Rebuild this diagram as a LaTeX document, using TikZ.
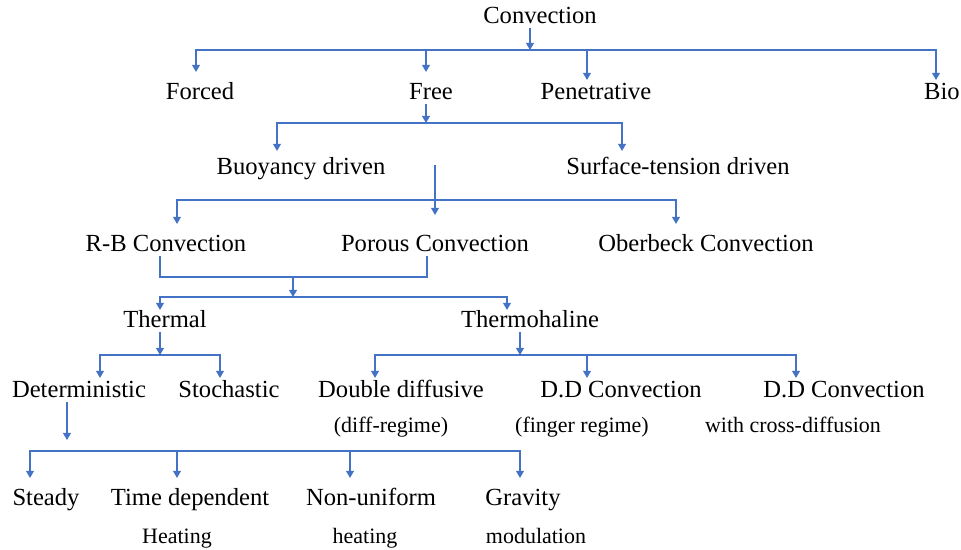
\documentclass[tikz,border=0pt]{standalone}
\usepackage{fontspec}
\setmainfont{Liberation Serif}
\usetikzlibrary{arrows.meta}
\definecolor{linkblue}{RGB}{68,114,196}

\begin{document}
\begin{tikzpicture}[x=0.02cm, y=-0.02cm,
  lbl/.style={anchor=base, inner xsep=2pt, inner ysep=2pt, text height=11.5pt, text depth=0pt, font=\fontsize{14}{16}\selectfont},
  note/.style={anchor=base, inner sep=2pt, font=\fontsize{12.5}{15}\selectfont},
  link/.style={draw=linkblue, line width=0.6pt},
  arr/.style={link, -{Triangle[width=4.5pt, length=4pt]}}]
\useasboundingbox (0,0) rectangle (961,550);

% labels
\node[lbl] (conv) at (540,24) {Convection};
\node[lbl] (forced) at (200,100) {Forced};
\node[lbl] (free) at (431,100) {Free};
\node[lbl] (pen) at (596,100) {Penetrative};
\node[lbl] (bio) at (942,100) {Bio};
\node[lbl] (buoy) at (301,175) {Buoyancy driven};
\node[lbl] (surf) at (678,175) {Surface-tension driven};
\node[lbl] (rb) at (166,252) {R-B Convection};
\node[lbl] (porous) at (435,252) {Porous Convection};
\node[lbl] (ober) at (706,252) {Oberbeck Convection};
\node[lbl] (thermal) at (165,328) {Thermal};
\node[lbl] (thermo) at (530,328) {Thermohaline};
\node[lbl] (det) at (79,398) {Deterministic};
\node[lbl] (stoch) at (229,398) {Stochastic};
\node[lbl] (ddiff) at (401,398) {Double diffusive};
\node[lbl] (ddfing) at (621,398) {D.D Convection};
\node[lbl] (ddcross) at (844,398) {D.D Convection};
\node[note] (diffreg) at (391,433) {(diff-regime)};
\node[note] (fingreg) at (582,433) {(finger regime)};
\node[note] (crossdiff) at (793,433) {with cross-diffusion};
\node[lbl] (steady) at (46,506) {Steady};
\node[lbl] (timedep) at (190,506) {Time dependent};
\node[lbl] (nonuni) at (371,506) {Non-uniform};
\node[lbl] (grav) at (523,506) {Gravity};
\node[note] (heat) at (177,544) {Heating};
\node[note] (heating) at (365,544) {heating};
\node[note] (modul) at (536,544) {modulation};

% junctions
\coordinate (j1) at (530,50);
\coordinate (j2) at (426,123);
\coordinate (j3) at (buoy.center -| porous.north);
\coordinate (j3b) at (j3 |- 0,200);
\coordinate (j4) at (293,277);
\coordinate (j5) at (293,297);
\coordinate (j6) at (160,355);
\coordinate (j7) at (520,355);
\coordinate (j8) at (67,440);
\coordinate (b8) at (67,451);

% connectors
\draw[arr] (conv.south -| j1) -- (j1);
\draw[arr] (j1) -| ([xshift=-0.08cm, yshift=0.08cm]forced.north);
\draw[arr] (j1) -| ([xshift=-0.1cm, yshift=0.08cm]free.north);
\draw[arr] (j1) -| ([xshift=-0.18cm, yshift=-0.08cm]pen.north);
\draw[arr] (j1) -| ([xshift=-0.12cm, yshift=-0.08cm]bio.north);

\draw[arr] (free.south -| j2) -- (j2);
\draw[arr] (j2) -| ([xshift=-0.48cm]buoy.north);
\draw[arr] (j2) -| ([xshift=-1.12cm]surf.north);

\draw[arr] (j3) -- ([yshift=0.26cm]porous.north);
\draw[arr] (j3b) -| ([xshift=0.22cm, yshift=0.08cm]rb.north);
\draw[arr] (j3b) -| ([xshift=-0.6cm, yshift=0.08cm]ober.north);

\draw[link] ([xshift=-0.12cm]rb.south) |- (j4) -| ([xshift=-0.16cm]porous.south);
\draw[arr] (j4) -- (j5);
\draw[arr] (j5) -| ([xshift=-0.1cm, yshift=-0.12cm]thermal.north);
\draw[arr] (j5) -| ([xshift=-0.46cm, yshift=-0.12cm]thermo.north);

\draw[arr] (thermal.south -| j6) -- (j6);
\draw[arr] (j6) -| ([xshift=0.42cm, yshift=-0.08cm]det.north);
\draw[arr] (j6) -| ([xshift=-0.18cm, yshift=-0.08cm]stoch.north);

\draw[arr] (thermo.south -| j7) -- (j7);
\draw[arr] (j7) -| ([xshift=-0.52cm, yshift=-0.08cm]ddiff.north);
\draw[arr] (j7) -| ([xshift=-0.68cm, yshift=-0.08cm]ddfing.north);
\draw[arr] (j7) -| ([xshift=-0.96cm, yshift=-0.08cm]ddcross.north);

\draw[arr] (det.south -| j8) -- (j8);
\draw[arr] (b8) -| ([xshift=-0.32cm, yshift=0.08cm]steady.north);
\draw[arr] (b8) -| ([xshift=-0.26cm, yshift=0.08cm]timedep.north);
\draw[arr] (b8) -| ([xshift=-0.42cm, yshift=0.08cm]nonuni.north);
\draw[arr] (b8) -| ([xshift=-0.06cm, yshift=0.08cm]grav.north);
\end{tikzpicture}
\end{document}
